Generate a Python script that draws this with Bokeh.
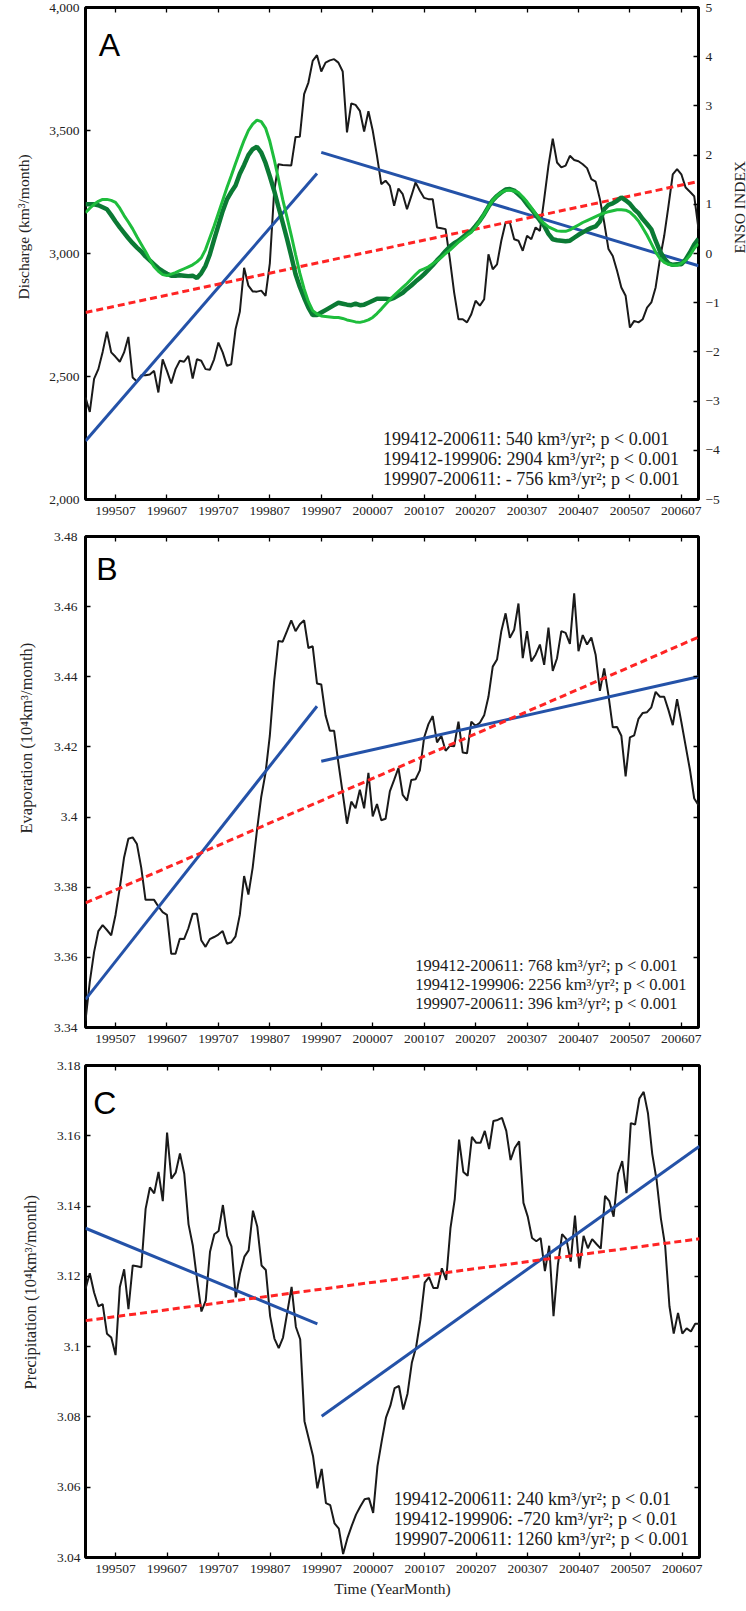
import math
from bokeh.plotting import figure
from bokeh.layouts import column
from bokeh.models import (Range1d, LinearAxis, FixedTicker, CustomJSTickFormatter,
                          NumeralTickFormatter, Label, Title)
from bokeh.embed import file_html
from bokeh.resources import INLINE

# ---------------- data ----------------
# month index 0 = 199412 ... 143 = 200611
x_tick_pos = [7, 19, 31, 43, 55, 67, 79, 91, 103, 115, 127, 139]
x_tick_labels = ["199507", "199607", "199707", "199807", "199907", "200007",
                 "200107", "200207", "200307", "200407", "200507", "200607"]

discharge = [2415, 2356, 2490, 2530, 2600, 2682, 2598, 2580, 2560, 2598, 2661, 2496,
             2480, 2505, 2505, 2508, 2523, 2435, 2570, 2523, 2472, 2530, 2564, 2560,
             2584, 2492, 2570, 2564, 2530, 2527, 2570, 2638, 2598, 2543, 2550, 2692,
             2763, 2942, 2869, 2846, 2845, 2849, 2828, 2960, 3250, 3363, 3360, 3359,
             3358, 3474, 3475, 3648, 3695, 3783, 3806, 3740, 3776, 3785, 3790, 3776,
             3740, 3492, 3610, 3604, 3580, 3496, 3578, 3500, 3397, 3282, 3296, 3275,
             3194, 3264, 3241, 3180, 3233, 3289, 3255, 3226, 3221, 3221, 3106, 3103,
             3099, 2977, 2841, 2733, 2733, 2720, 2753, 2808, 2788, 2814, 2997, 2936,
             2956, 3052, 3126, 3126, 3058, 3052, 3011, 3072, 3058, 3106, 3092, 3221,
             3357, 3467, 3370, 3350, 3357, 3397, 3380, 3375, 3363, 3347, 3302, 3292,
             3221, 3126, 3018, 2990, 2930, 2862, 2828, 2699, 2726, 2720, 2733, 2780,
             2801, 2862, 2977, 3072, 3194, 3322, 3343, 3322, 3268, 3251, 3233, 3100]

enso_dark = [1.00, 1.00, 1.00, 0.98, 0.94, 0.90, 0.78, 0.65, 0.53, 0.42, 0.31, 0.21,
             0.12, 0.04, -0.06, -0.14, -0.22, -0.30, -0.36, -0.41, -0.45, -0.45, -0.44, -0.45,
             -0.46, -0.45, -0.50, -0.40, -0.25, -0.02, 0.28, 0.57, 0.86, 1.10, 1.25, 1.38,
             1.62, 1.80, 2.00, 2.12, 2.17, 2.05, 1.84, 1.57, 1.28, 0.95, 0.63, 0.30,
             -0.05, -0.42, -0.68, -0.90, -1.10, -1.25, -1.25, -1.20, -1.15, -1.10, -1.05, -1.00,
             -1.02, -1.04, -1.05, -1.02, -1.05, -1.04, -1.00, -0.96, -0.92, -0.92, -0.92, -0.93,
             -0.90, -0.85, -0.80, -0.72, -0.65, -0.57, -0.50, -0.42, -0.33, -0.24, -0.14, -0.05,
             0.05, 0.14, 0.21, 0.26, 0.33, 0.40, 0.46, 0.56, 0.67, 0.80, 0.95, 1.08,
             1.17, 1.24, 1.30, 1.31, 1.28, 1.20, 1.12, 1.00, 0.90, 0.79, 0.67, 0.56,
             0.40, 0.29, 0.27, 0.26, 0.25, 0.26, 0.32, 0.38, 0.43, 0.48, 0.52, 0.55,
             0.65, 0.90, 0.99, 1.02, 1.07, 1.14, 1.08, 1.01, 0.90, 0.82, 0.70, 0.60,
             0.49, 0.26, 0.05, -0.10, -0.20, -0.23, -0.22, -0.22, -0.12, 0.02, 0.18, 0.30]

enso_light = [0.83, 0.92, 1.00, 1.06, 1.10, 1.10, 1.08, 1.04, 0.92, 0.77, 0.64, 0.50,
              0.34, 0.19, 0.04, -0.12, -0.27, -0.36, -0.43, -0.45, -0.42, -0.39, -0.35, -0.31,
              -0.27, -0.23, -0.17, -0.09, 0.08, 0.32, 0.56, 0.82, 1.08, 1.34, 1.58, 1.83,
              2.07, 2.30, 2.50, 2.63, 2.71, 2.68, 2.55, 2.28, 1.92, 1.52, 1.10, 0.74,
              0.37, -0.02, -0.40, -0.72, -0.98, -1.16, -1.23, -1.27, -1.28, -1.29, -1.30, -1.30,
              -1.32, -1.35, -1.37, -1.39, -1.40, -1.38, -1.35, -1.30, -1.22, -1.13, -1.03, -0.94,
              -0.85, -0.77, -0.69, -0.61, -0.52, -0.43, -0.35, -0.31, -0.27, -0.21, -0.15, -0.08,
              0.00, 0.07, 0.15, 0.23, 0.30, 0.37, 0.43, 0.54, 0.66, 0.80, 0.95, 1.08,
              1.17, 1.24, 1.28, 1.29, 1.27, 1.24, 1.15, 1.05, 0.93, 0.81, 0.70, 0.61,
              0.54, 0.50, 0.46, 0.45, 0.45, 0.48, 0.53, 0.58, 0.63, 0.67, 0.71, 0.75,
              0.79, 0.82, 0.85, 0.87, 0.89, 0.89, 0.88, 0.84, 0.76, 0.66, 0.52, 0.37,
              0.20, 0.03, -0.10, -0.18, -0.22, -0.24, -0.24, -0.20, -0.14, -0.04, 0.10, 0.20]

evaporation = [3.3420, 3.3530, 3.3615, 3.3675, 3.3692, 3.3678, 3.3663, 3.3721, 3.3798, 3.3885, 3.3938, 3.3942,
               3.3923, 3.3856, 3.3764, 3.3764, 3.3764, 3.3745, 3.3729, 3.3721, 3.3610, 3.3610, 3.3653, 3.3652,
               3.3683, 3.3724, 3.3724, 3.3649, 3.3630, 3.3652, 3.3658, 3.3665, 3.3675, 3.3639, 3.3643, 3.3660,
               3.3721, 3.3832, 3.3779, 3.3856, 3.3962, 3.4058, 3.4126, 3.4232, 3.4386, 3.4502, 3.4500, 3.4530,
               3.4561, 3.4530, 3.4550, 3.4561, 3.4482, 3.4487, 3.4381, 3.4378, 3.4290, 3.4246, 3.4246, 3.4154,
               3.4068, 3.3981, 3.4044, 3.4025, 3.4078, 3.4025, 3.4126, 3.4002, 3.4037, 3.3991, 3.3995, 3.4073,
               3.4106, 3.4140, 3.4063, 3.4047, 3.4106, 3.4108, 3.4133, 3.4227, 3.4265, 3.4288, 3.4213, 3.4232,
               3.4189, 3.4203, 3.4202, 3.4272, 3.4184, 3.4182, 3.4272, 3.4260, 3.4269, 3.4290, 3.4343, 3.4429,
               3.4449, 3.4530, 3.4581, 3.4511, 3.4534, 3.4609, 3.4453, 3.4530, 3.4444, 3.4463, 3.4492, 3.4434,
               3.4540, 3.4417, 3.4453, 3.4530, 3.4525, 3.4494, 3.4638, 3.4473, 3.4519, 3.4492, 3.4512, 3.4463,
               3.4360, 3.4424, 3.4347, 3.4256, 3.4257, 3.4232, 3.4116, 3.4227, 3.4233, 3.4280, 3.4297, 3.4299,
               3.4313, 3.4357, 3.4343, 3.4343, 3.4305, 3.4262, 3.4336, 3.4271, 3.4203, 3.4135, 3.4053, 3.4034]

precipitation = [3.1165, 3.1209, 3.1154, 3.1115, 3.1121, 3.1037, 3.1026, 3.0976, 3.1170, 3.1220, 3.1107, 3.1231,
                 3.1229, 3.1226, 3.1392, 3.1453, 3.1436, 3.1497, 3.1414, 3.1609, 3.1478, 3.1495, 3.1550, 3.1492,
                 3.1348, 3.1287, 3.1189, 3.1100, 3.1131, 3.1270, 3.1320, 3.1329, 3.1403, 3.1315, 3.1285, 3.1140,
                 3.1209, 3.1256, 3.1274, 3.1387, 3.1342, 3.1231, 3.1218, 3.1087, 3.1023, 3.0996, 3.1026, 3.1098,
                 3.1170, 3.1056, 3.1021, 3.0788, 3.0738, 3.0688, 3.0597, 3.0652, 3.0555, 3.0549, 3.0497, 3.0482,
                 3.0410, 3.0455, 3.0490, 3.0522, 3.0545, 3.0566, 3.0569, 3.0527, 3.0660, 3.0732, 3.0799, 3.0832,
                 3.0882, 3.0888, 3.0821, 3.0866, 3.0954, 3.0999, 3.1076, 3.1182, 3.1198, 3.1167, 3.1167, 3.1223,
                 3.1190, 3.1337, 3.1420, 3.1589, 3.1497, 3.1486, 3.1597, 3.1580, 3.1580, 3.1614, 3.1562, 3.1642,
                 3.1645, 3.1651, 3.1614, 3.1531, 3.1566, 3.1584, 3.1409, 3.1370, 3.1309, 3.1300, 3.1309, 3.1215,
                 3.1287, 3.1087, 3.1231, 3.1320, 3.1306, 3.1242, 3.1373, 3.1223, 3.1315, 3.1280, 3.1306, 3.1292,
                 3.1279, 3.1429, 3.1414, 3.1370, 3.1492, 3.1528, 3.1437, 3.1636, 3.1632, 3.1706, 3.1725, 3.1664,
                 3.1548, 3.1475, 3.1365, 3.1287, 3.1115, 3.1037, 3.1096, 3.1037, 3.1052, 3.1043, 3.1065, 3.1065]

# trend lines: [start month, end month] and [start value, end value]
trend_x = {"all": [0, 143], "p1": [0, 54], "p2": [55, 143]}
a_trend = {"all": [2760, 3293], "p1": [2238, 3325], "p2": [3411, 2950]}
b_trend = {"all": [3.3755, 3.4513], "p1": [3.3480, 3.4316], "p2": [3.4159, 3.4400]}
c_trend = {"all": [3.1074, 3.1307], "p1": [3.1337, 3.1065], "p2": [3.0802, 3.1570]}

a_notes = ["199412-200611: 540 km³/yr²; p < 0.001",
           "199412-199906: 2904 km³/yr²; p < 0.001",
           "199907-200611: - 756 km³/yr²; p < 0.001"]
b_notes = ["199412-200611: 768 km³/yr²; p < 0.001",
           "199412-199906: 2256 km³/yr²; p < 0.001",
           "199907-200611: 396 km³/yr²; p < 0.001"]
c_notes = ["199412-200611: 240 km³/yr²; p < 0.01",
           "199412-199906: -720 km³/yr²; p < 0.01",
           "199907-200611: 1260 km³/yr²; p < 0.001"]

months = list(range(len(discharge)))

# ---------------- styling ----------------
SERIF = "Liberation Serif"
SANS = "Liberation Sans"
TICK_FS = "13.5px"
BLACK = "#1a1a1a"
BLUE = "#2452a8"
RED = "#ff2424"
DKGREEN = "#0b7a34"
LTGREEN = "#1ebd3c"

x_overrides = {t: l for t, l in zip(x_tick_pos, x_tick_labels)}


def style_axis(ax, show_labels=True):
    ax.major_tick_in = 5
    ax.major_tick_out = 0
    ax.minor_tick_line_color = None
    ax.axis_line_color = None
    ax.major_tick_line_color = "black"
    ax.major_tick_line_width = 1.3
    ax.major_label_text_font = SERIF
    ax.axis_label_text_font = SERIF
    ax.axis_label_text_font_size = "15.5px"
    ax.axis_label_text_font_style = "normal"
    ax.axis_label_text_color = "#222222"
    if show_labels:
        ax.major_label_text_font_size = TICK_FS
        ax.major_label_text_color = "#222222"
    else:
        ax.major_label_text_font_size = "1px"
        ax.major_label_text_color = None
        ax.major_label_standoff = 0


def make_fig(y0, y1, yticks, left, right, top_b, bottom, fh, fw, ylabel, lab_fs, lab_offset,
             lab_standoff, xlabel=None, tick_standoff=6, yfmt=None):
    p = figure(frame_width=fw, frame_height=fh, min_border_left=left, min_border_right=right,
               min_border_top=top_b, min_border_bottom=bottom,
               x_range=Range1d(0, 143), y_range=Range1d(y0, y1),
               output_backend="svg", toolbar_location=None)
    p.grid.visible = False
    p.outline_line_color = "black"
    p.outline_line_width = 3
    p.background_fill_color = "white"
    p.border_fill_color = "white"

    xa = p.xaxis[0]
    xa.ticker = FixedTicker(ticks=x_tick_pos)
    xa.major_label_overrides = x_overrides
    style_axis(xa)
    xa.major_label_standoff = 7
    if xlabel:
        xa.axis_label = xlabel
        xa.axis_label_standoff = 4

    ya = p.yaxis[0]
    ya.ticker = FixedTicker(ticks=yticks)
    style_axis(ya)
    ya.major_label_standoff = tick_standoff
    if yfmt is not None:
        ya.formatter = yfmt

    # y-axis title placed beside the tick labels (slightly above centre, as in the original)
    p.add_layout(Title(text=ylabel, align="left", vertical_align="middle", offset=lab_offset,
                       standoff=lab_standoff, text_font=SERIF, text_font_size=lab_fs,
                       text_font_style="normal", text_color="#222222"), "left")

    top = LinearAxis(ticker=FixedTicker(ticks=x_tick_pos))
    style_axis(top, show_labels=False)
    p.add_layout(top, "above")
    return p


def add_trends(p, tr):
    p.line(trend_x["p1"], tr["p1"], line_color=BLUE, line_width=3)
    p.line(trend_x["p2"], tr["p2"], line_color=BLUE, line_width=3)
    p.line(trend_x["all"], tr["all"], line_color=RED, line_width=3, line_dash="7 4")


def add_notes(p, notes, x, ys, fs):
    for t, y in zip(notes, ys):
        p.add_layout(Label(x=x, y=y, text=t, text_font=SERIF, text_font_size=fs,
                           text_color="#1a1a1a", text_baseline="alphabetic", text_align="left"))


def add_letter(p, letter, x, y):
    p.add_layout(Label(x=x, y=y, text=letter, text_font=SANS, text_font_size="32px",
                       text_color="black", text_baseline="alphabetic", text_align="left"))


dec_fmt = CustomJSTickFormatter(code="return String(Math.round(tick*100)/100);")

# ---------------- panel A ----------------
pa = make_fig(2000, 4000, [2000, 2500, 3000, 3500, 4000], 72, 53, 7, 30, 492, 613,
              "Discharge (km³/month)", "15.5px", 200, 27, yfmt=NumeralTickFormatter(format="0,0"))
pa.extra_y_ranges = {"enso": Range1d(-5, 5)}
# ENSO scale: ticks and numbers
ra = LinearAxis(y_range_name="enso", ticker=FixedTicker(ticks=list(range(-5, 6))),
                formatter=CustomJSTickFormatter(code="return tick < 0 ? '\\u2212' + Math.abs(tick) : String(tick);"))
style_axis(ra)
ra.major_label_standoff = 7
pa.add_layout(ra, "right")
# ENSO title (reads bottom-to-top)
ra2 = LinearAxis(y_range_name="enso", ticker=FixedTicker(ticks=[]), bounds=(-5, 3.7))
style_axis(ra2, show_labels=False)
ra2.major_tick_in = 0
ra2.axis_label = "ENSO INDEX"
ra2.axis_label_standoff = 17
try:
    ra2.axis_label_orientation = math.pi / 2
except Exception:
    pass
pa.add_layout(ra2, "right")

pa.line(months, discharge, line_color=BLACK, line_width=2)
add_trends(pa, a_trend)
pa.line(months, enso_dark, line_color=DKGREEN, line_width=4.5, y_range_name="enso")
pa.line(months, enso_light, line_color=LTGREEN, line_width=3, y_range_name="enso")
add_notes(pa, a_notes, 69.4, [2245, 2164, 2083], "18px")
add_letter(pa, "A", 3.1, 3849)

# ---------------- panel B ----------------
b_ticks = [3.34, 3.36, 3.38, 3.40, 3.42, 3.44, 3.46, 3.48]
pb = make_fig(3.34, 3.48, b_ticks, 75, 50, 7, 31, 491, 613,
              "Evaporation (10⁴km³/month)", "16.5px", 194, 27, tick_standoff=8, yfmt=dec_fmt)
rb = LinearAxis(ticker=FixedTicker(ticks=b_ticks))
style_axis(rb, show_labels=False)
pb.add_layout(rb, "right")
pb.line(months, evaporation, line_color=BLACK, line_width=2)
add_trends(pb, b_trend)
add_notes(pb, b_notes, 76.9, [3.3576, 3.3523, 3.3469], "16.5px")
add_letter(pb, "B", 2.5, 3.4706)

# ---------------- panel C ----------------
c_ticks = [3.04, 3.06, 3.08, 3.10, 3.12, 3.14, 3.16, 3.18]
pc = make_fig(3.04, 3.18, c_ticks, 78, 46, 7, 38, 492, 614,
              "Precipitation (10⁴km³/month)", "16.5px", 168, 26,
              xlabel="Time (YearMonth)", tick_standoff=5, yfmt=dec_fmt)
rc = LinearAxis(ticker=FixedTicker(ticks=c_ticks))
style_axis(rc, show_labels=False)
pc.add_layout(rc, "right")
pc.line(months, precipitation, line_color=BLACK, line_width=2)
add_trends(pc, c_trend)
add_notes(pc, c_notes, 71.8, [3.0566, 3.0509, 3.0454], "18px")
add_letter(pc, "C", 1.8, 3.1694)

layout = column(pa, pb, pc, spacing=0)
open("out.html", "w").write(file_html(layout, INLINE))
